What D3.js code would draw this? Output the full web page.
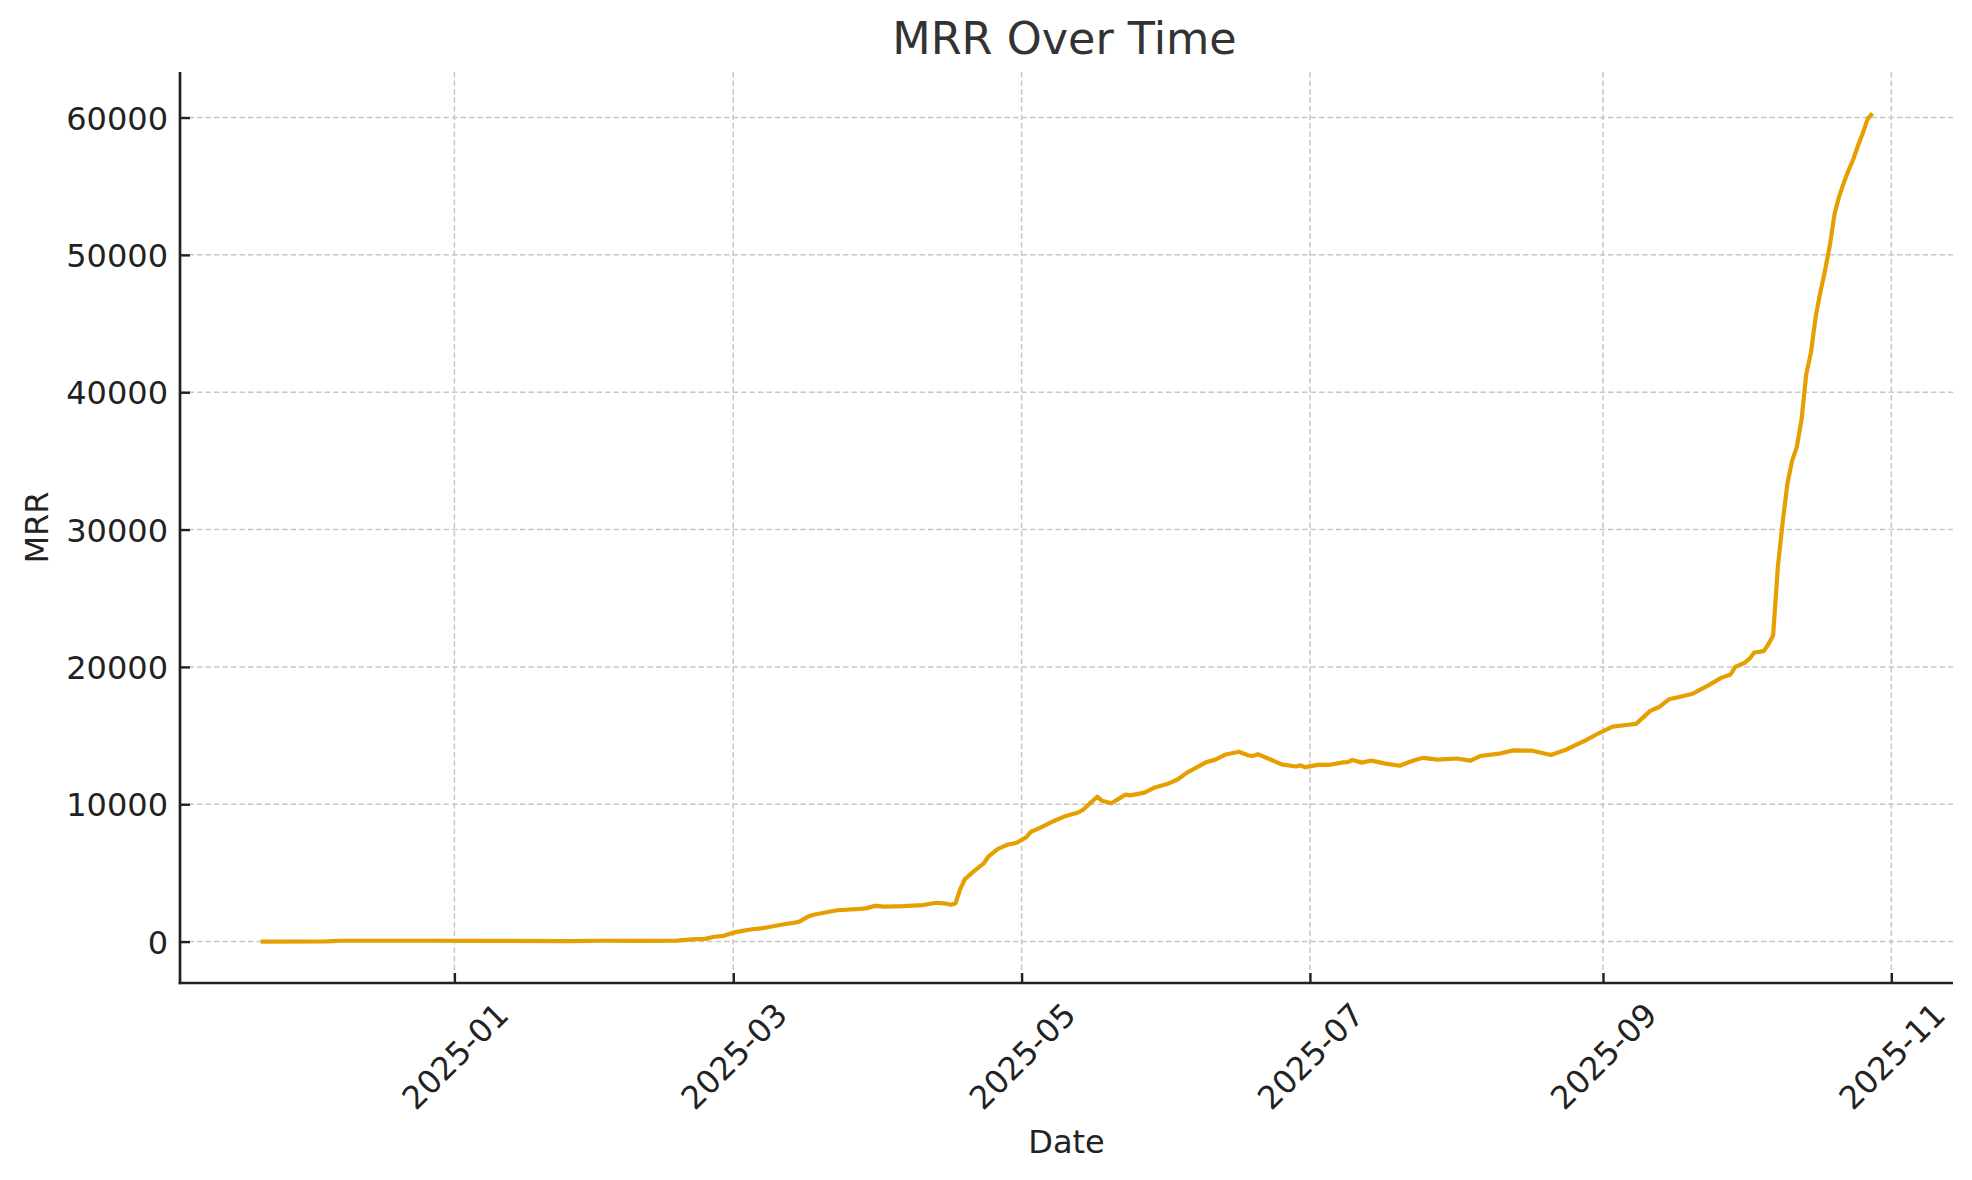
<!DOCTYPE html>
<html>
<head>
<meta charset="utf-8">
<script src="https://cdn.jsdelivr.net/npm/d3@7/dist/d3.min.js"></script>
<style>
  html, body { margin: 0; padding: 0; background: #ffffff; }
  svg { display: block; }
  text { font-family: "DejaVu Sans", sans-serif; }
</style>
</head>
<body>
<svg id="chart" width="1972" height="1180"></svg>
<script>
// ---- data ----
const dates = [
  "2024-11-21","2024-12-05","2024-12-08","2024-12-25","2025-01-10","2025-01-25",
  "2025-02-01","2025-02-10","2025-02-17","2025-02-21","2025-02-23","2025-02-25",
  "2025-02-27","2025-03-01","2025-03-03","2025-03-05","2025-03-07","2025-03-10",
  "2025-03-12","2025-03-14","2025-03-15","2025-03-17","2025-03-18","2025-03-21",
  "2025-03-23","2025-03-27","2025-03-29","2025-03-31","2025-04-02","2025-04-06",
  "2025-04-10","2025-04-13","2025-04-15","2025-04-16","2025-04-17","2025-04-18",
  "2025-04-19","2025-04-21","2025-04-23","2025-04-24","2025-04-26","2025-04-28",
  "2025-04-30","2025-05-02","2025-05-03","2025-05-05","2025-05-07","2025-05-09",
  "2025-05-10","2025-05-13","2025-05-14","2025-05-17","2025-05-18","2025-05-20",
  "2025-05-23","2025-05-24","2025-05-27","2025-05-29","2025-06-01","2025-06-03",
  "2025-06-05","2025-06-09","2025-06-11","2025-06-13","2025-06-16","2025-06-18",
  "2025-06-19","2025-06-20","2025-06-22","2025-06-25","2025-06-28","2025-06-29",
  "2025-06-30","2025-07-03","2025-07-05","2025-07-08","2025-07-09","2025-07-10",
  "2025-07-12","2025-07-14","2025-07-17","2025-07-20","2025-07-22","2025-07-24",
  "2025-07-25","2025-07-28","2025-08-01","2025-08-04","2025-08-06","2025-08-10",
  "2025-08-13","2025-08-17","2025-08-21","2025-08-24","2025-08-28","2025-08-31",
  "2025-09-03","2025-09-06","2025-09-08","2025-09-11","2025-09-13","2025-09-15",
  "2025-09-18","2025-09-20","2025-09-23","2025-09-26","2025-09-28","2025-09-29",
  "2025-10-01","2025-10-02","2025-10-03","2025-10-05","2025-10-06","2025-10-07",
  "2025-10-08","2025-10-09","2025-10-10","2025-10-11","2025-10-12","2025-10-13",
  "2025-10-14","2025-10-15","2025-10-16","2025-10-17","2025-10-18","2025-10-19",
  "2025-10-20","2025-10-21","2025-10-22","2025-10-23","2025-10-24","2025-10-25",
  "2025-10-26","2025-10-27","2025-10-28"
];
const mrr = [
  0, 20, 60, 60, 50, 40,
  60, 50, 70, 180, 200, 350,
  420, 650, 780, 900, 960, 1150,
  1280, 1380, 1450, 1850, 1950, 2150,
  2280, 2370, 2420, 2600, 2550, 2580,
  2660, 2830, 2770, 2680, 2780, 3800,
  4550, 5150, 5700, 6200, 6750, 7050,
  7200, 7600, 8000, 8300, 8650, 8950,
  9100, 9400, 9600, 10550, 10250, 10070,
  10700, 10650, 10850, 11200, 11500, 11800,
  12300, 13050, 13250, 13600, 13820, 13550,
  13520, 13650, 13350, 12900, 12750, 12830,
  12700, 12880, 12860, 13050, 13060, 13220,
  13030, 13180, 12960, 12800, 13080, 13300,
  13380, 13250, 13330, 13180, 13510, 13680,
  13920, 13900, 13580, 13950, 14600, 15150,
  15650, 15770, 15850, 16800, 17100, 17650,
  17880, 18050, 18600, 19200, 19450, 20000,
  20300, 20600, 21050, 21150, 21650, 22300,
  27300, 30500, 33300, 35000, 36000, 38000,
  41300, 42900, 45500, 47300, 48900, 50700,
  53000, 54300, 55300, 56200, 57000, 58000,
  58900, 59900, 60300
];
const xTickLabels = ["2025-01","2025-03","2025-05","2025-07","2025-09","2025-11"];
const yTickValues = [0, 10000, 20000, 30000, 40000, 50000, 60000];
const titleText = "MRR Over Time";
const xLabelText = "Date";
const yLabelText = "MRR";

// ---- layout ----
const W = 1972, H = 1180;
const plot = { left: 180, right: 1953, top: 72, bottom: 983 };
const parse = d3.utcParse("%Y-%m-%d");
const parseMonth = d3.utcParse("%Y-%m");
const data = dates.map((d, i) => ({ date: parse(d), value: mrr[i] }));

const svg = d3.select("#chart");
svg.append("rect").attr("width", W).attr("height", H).attr("fill", "#ffffff");

// domains with 5% margins like the source
const xExt = d3.extent(data, d => d.date);
const xSpan = xExt[1] - xExt[0];
const x = d3.scaleUtc()
  .domain([new Date(+xExt[0] - 0.05 * xSpan), new Date(+xExt[1] + 0.05 * xSpan)])
  .range([plot.left, plot.right]);
const yExt = d3.extent(data, d => d.value);
const ySpan = yExt[1] - yExt[0];
const y = d3.scaleLinear()
  .domain([yExt[0] - 0.05 * ySpan, yExt[1] + 0.05 * ySpan])
  .range([plot.bottom, plot.top]);

const xTicks = xTickLabels.map(s => parseMonth(s));
const fmt = d3.utcFormat("%Y-%m");

const tickFont = 32;
const textColor = "#222222";

// grid
const grid = svg.append("g");
grid.selectAll("line.gx").data(xTicks).join("line")
  .attr("x1", d => x(d)).attr("x2", d => x(d))
  .attr("y1", plot.top).attr("y2", plot.bottom)
  .attr("stroke", "#c8c8c8").attr("stroke-width", 1.5)
  .attr("stroke-dasharray", "5.5,3");
grid.selectAll("line.gy").data(yTickValues).join("line")
  .attr("x1", plot.left).attr("x2", plot.right)
  .attr("y1", d => y(d)).attr("y2", d => y(d))
  .attr("stroke", "#c8c8c8").attr("stroke-width", 1.5)
  .attr("stroke-dasharray", "5.5,3");

// line
const line = d3.line().x(d => x(d.date)).y(d => y(d.value)).curve(d3.curveLinear);
svg.append("path").datum(data)
  .attr("d", line)
  .attr("fill", "none")
  .attr("stroke", "#E69F00")
  .attr("stroke-width", 4.2)
  .attr("stroke-linejoin", "round")
  .attr("stroke-linecap", "butt");

// axes (inward ticks, only left and bottom spines)
const xAxis = d3.axisBottom(x).tickValues(xTicks).tickFormat(fmt)
  .tickSizeInner(-10).tickSizeOuter(0).tickPadding(0);
const gx = svg.append("g").attr("transform", `translate(0,${plot.bottom})`).call(xAxis);
gx.select(".domain").remove();
gx.selectAll(".tick line").attr("stroke", textColor).attr("stroke-width", 2.4);
gx.selectAll(".tick text")
  .attr("font-family", "DejaVu Sans")
  .attr("font-size", tickFont)
  .attr("fill", textColor)
  .attr("text-anchor", "middle")
  .attr("y", 0).attr("dy", "0.36em")
  .attr("transform", "translate(0,73) rotate(-45)");

const yAxis = d3.axisLeft(y).tickValues(yTickValues).tickFormat(d3.format("d"))
  .tickSizeInner(-10).tickSizeOuter(0).tickPadding(12);
const gy = svg.append("g").attr("transform", `translate(${plot.left},0)`).call(yAxis);
gy.select(".domain").remove();
gy.selectAll(".tick line").attr("stroke", textColor).attr("stroke-width", 2.4);
gy.selectAll(".tick text")
  .attr("font-family", "DejaVu Sans")
  .attr("font-size", tickFont)
  .attr("fill", textColor)
  .attr("x", -12).attr("dy", "0.36em");

// spines
svg.append("line")
  .attr("x1", plot.left).attr("x2", plot.left)
  .attr("y1", plot.top).attr("y2", plot.bottom + 1.35)
  .attr("stroke", textColor).attr("stroke-width", 2.7);
svg.append("line")
  .attr("x1", plot.left - 1.35).attr("x2", plot.right)
  .attr("y1", plot.bottom).attr("y2", plot.bottom)
  .attr("stroke", textColor).attr("stroke-width", 2.7);

// title and labels
const cx = (plot.left + plot.right) / 2;
svg.append("text").attr("x", cx - 2).attr("y", 54)
  .attr("text-anchor", "middle").attr("font-size", 44.5).attr("fill", "#333333")
  .text(titleText);
svg.append("text").attr("x", cx).attr("y", 1153)
  .attr("text-anchor", "middle").attr("font-size", 32).attr("fill", textColor)
  .text(xLabelText);
svg.append("text")
  .attr("transform", `translate(48,${(plot.top + plot.bottom) / 2}) rotate(-90)`)
  .attr("text-anchor", "middle").attr("font-size", 32).attr("fill", textColor)
  .text(yLabelText);
</script>
</body>
</html>
